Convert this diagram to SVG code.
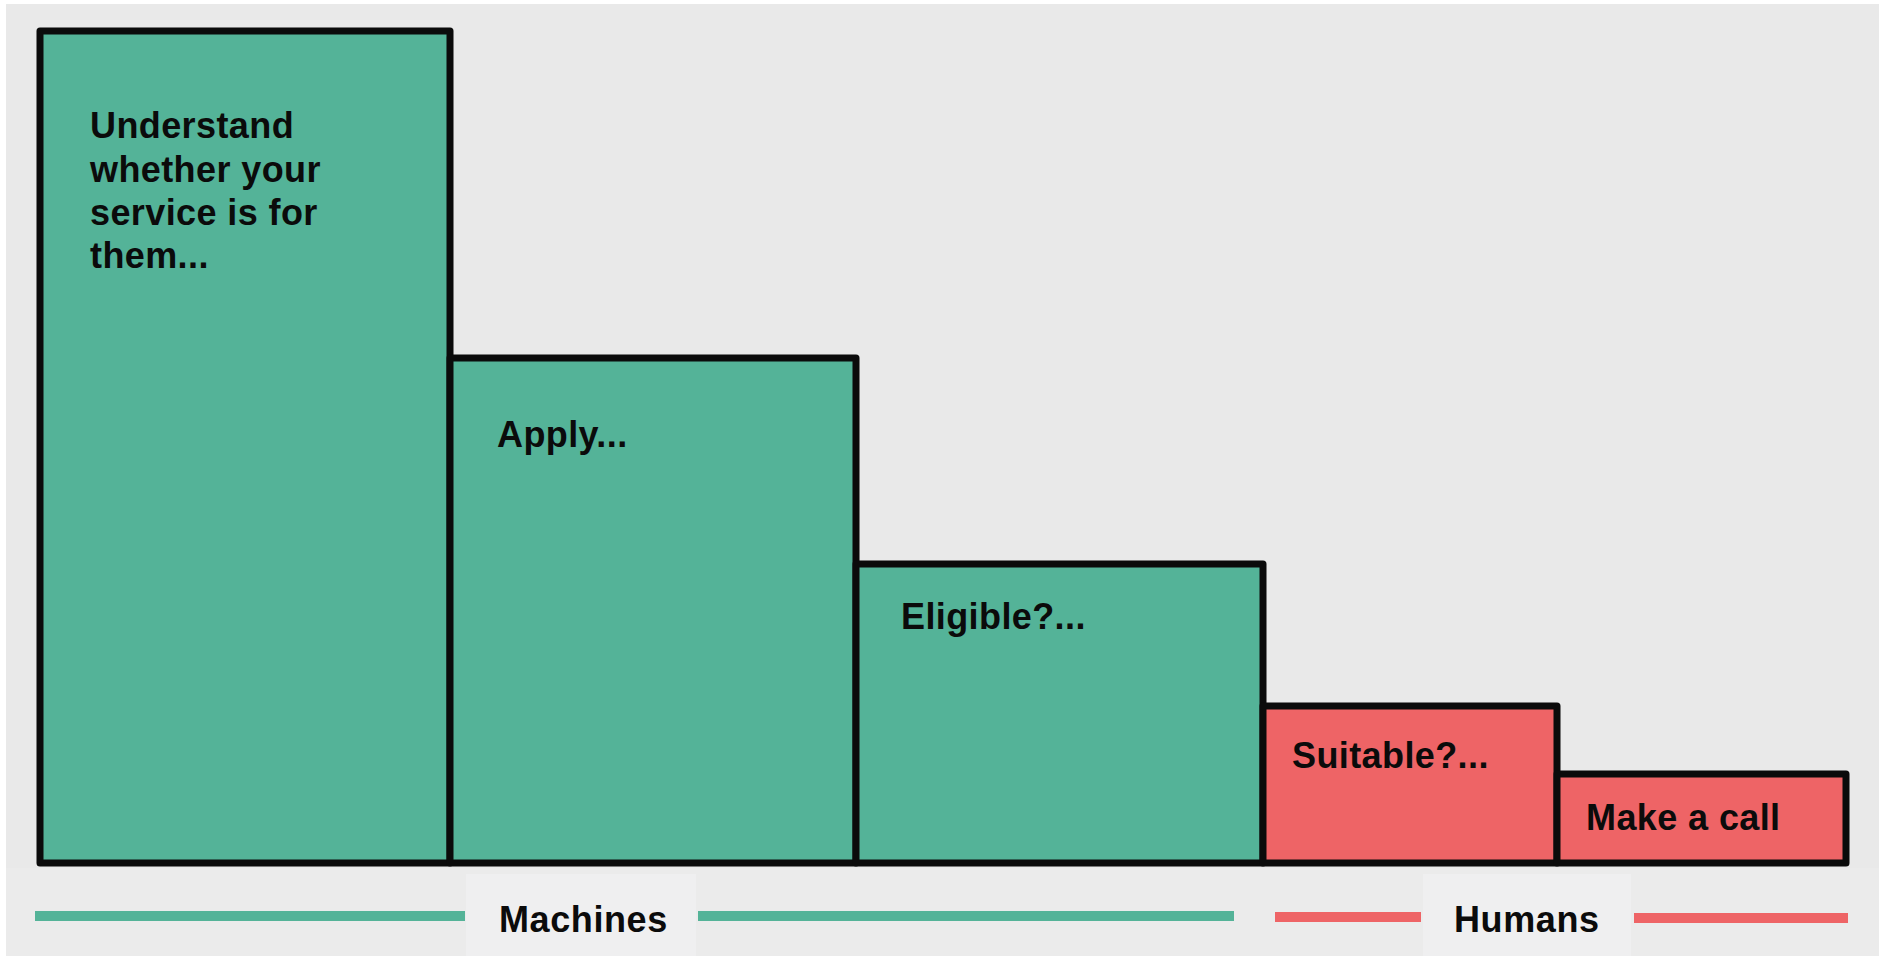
<svg xmlns="http://www.w3.org/2000/svg" width="1883" height="956" viewBox="0 0 1883 956">
  <style>
    .bar { stroke: #0b0b0b; stroke-width: 7; stroke-linejoin: round; }
    .machine { fill: #54b398; }
    .human { fill: #ee6466; }
    .label { font-family: "Liberation Sans", Arial, Helvetica, sans-serif; font-weight: bold; font-size: 36px; fill: #0b0b0b; letter-spacing: 0.4px; }
    .legend { font-family: "Liberation Sans", Arial, Helvetica, sans-serif; font-weight: bold; font-size: 36px; fill: #0b0b0b; letter-spacing: 0.6px; }
    .rule { stroke-width: 10; stroke-linecap: butt; }
  </style>

  <!-- page -->
  <rect x="0" y="0" width="1883" height="956" fill="#ffffff"/>
  <rect x="6" y="4" width="1873" height="952" fill="#e9e9e9"/>
  <rect x="6" y="868" width="1873" height="88" fill="#ebebeb"/>

  <!-- stepped bars, tallest first -->
  <g id="understand">
    <rect class="bar machine" x="40" y="31" width="410" height="832"/>
    <text class="label" x="90" y="138">Understand</text>
    <text class="label" x="90" y="182">whether your</text>
    <text class="label" x="90" y="225">service is for</text>
    <text class="label" x="90" y="268">them...</text>
  </g>

  <g id="apply">
    <rect class="bar machine" x="450" y="358" width="406" height="505"/>
    <text class="label" x="497" y="447">Apply...</text>
  </g>

  <g id="eligible">
    <rect class="bar machine" x="856" y="564" width="407" height="299"/>
    <text class="label" x="901" y="629">Eligible?...</text>
  </g>

  <g id="suitable">
    <rect class="bar human" x="1263" y="706" width="294" height="157"/>
    <text class="label" x="1292" y="768">Suitable?...</text>
  </g>

  <g id="make-a-call">
    <rect class="bar human" x="1557" y="774" width="289" height="89"/>
    <text class="label" x="1586" y="830">Make a call</text>
  </g>

  <!-- legend rules under the bars -->
  <g id="connectors">
    <line class="rule" x1="35" y1="916" x2="465" y2="916" stroke="#54b398"/>
    <line class="rule" x1="698" y1="916" x2="1234" y2="916" stroke="#54b398"/>
    <line class="rule" x1="1275" y1="917" x2="1421" y2="917" stroke="#ee6466"/>
    <line class="rule" x1="1634" y1="918" x2="1848" y2="918" stroke="#ee6466"/>
  </g>

  <g id="machines">
    <rect x="466" y="874" width="230" height="82" fill="#efeff0"/>
    <text class="legend" x="499" y="932">Machines</text>
  </g>

  <g id="humans">
    <rect x="1423" y="874" width="208" height="82" fill="#efeff0"/>
    <text class="legend" x="1454" y="932">Humans</text>
  </g>
</svg>
